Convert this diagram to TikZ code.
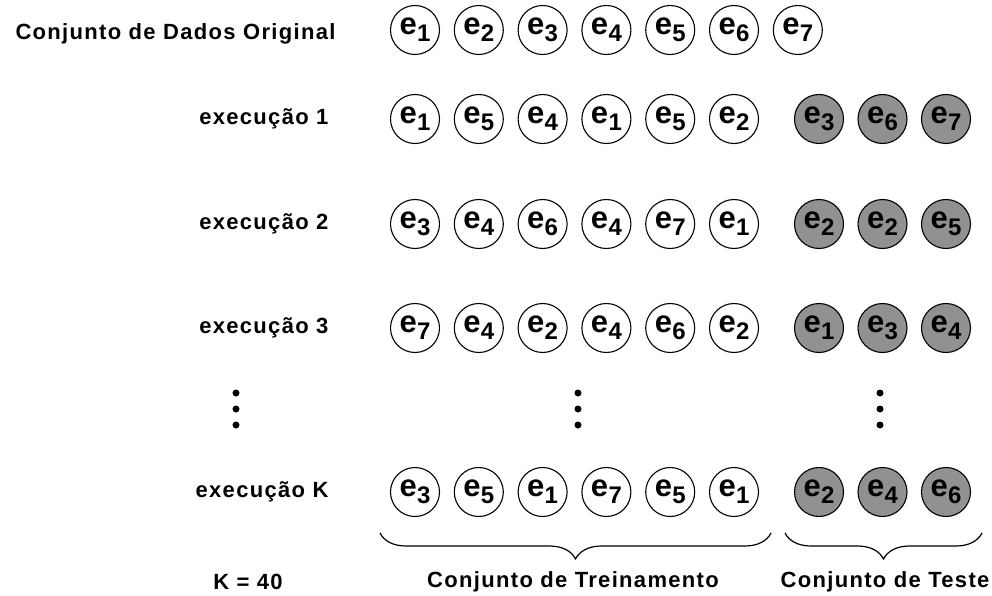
\documentclass[tikz,border=0pt]{standalone}
\usepackage{fontspec}
\setmainfont{Liberation Sans}
\usetikzlibrary{decorations.pathreplacing}

\newcommand{\amostra}[1]{e\kern0.3pt\raisebox{-7pt}{\fontsize{24}{24}\selectfont #1}}

\begin{document}
\begin{tikzpicture}[x=1pt,y=-1pt,
    elem/.style={circle, draw, line width=1.1pt, minimum size=49pt, inner sep=0pt,
      font=\fontsize{31}{31}\selectfont\bfseries},
    teste/.style={elem, fill=cinzateste},
    rotulo/.style={font=\fontsize{22}{22}\selectfont\bfseries\addfontfeature{LetterSpace=6}},
    chave/.style={decorate, decoration={brace, mirror, amplitude=26pt}, line width=1.2pt}]
    % Colors
    \definecolor{cinzateste}{RGB}{145, 145, 145}
    \useasboundingbox (0,0) rectangle (992,596);

    % Original data set
    \node[rotulo, anchor=west] (original) at (12,34) {Conjunto de Dados Original};
    \foreach \v [count=\i] in {1,...,7}
      \node[elem] (o\i) at ({415+63.8*(\i-1)},30) {\amostra{\v}};

    % Executions: training and test samples
    \foreach \n/\y/\treino/\tst in {1/119/{1,5,4,1,5,2}/{3,6,7},
        2/224/{3,4,6,4,7,1}/{2,2,5}, 3/328/{7,4,2,4,6,2}/{1,3,4},
        K/492/{3,5,1,7,5,1}/{2,4,6}} {
      \node[rotulo, anchor=east] (exec\n) at (332,\y) {execução \n};
      \foreach \v [count=\i] in \treino
        \node[elem] (r\n-\i) at ({415+63.8*(\i-1)},\y) {\amostra{\v}};
      \foreach \v [count=\i] in \tst
        \node[teste] (t\n-\i) at ({819+63.5*(\i-1)},\y) {\amostra{\v}};
    }

    % Vertical dots
    \foreach \x in {236,578,880}
      \foreach \y in {393,409,425}
        \fill (\x,\y) circle (3.5);

    % Braces
    \coordinate (treinoA) at (380,533);
    \coordinate (treinoB) at (771,533);
    \coordinate (testeA) at (785,533);
    \coordinate (testeB) at (982,533);
    \draw[chave] (treinoA) -- (treinoB);
    \draw[chave] (testeA) -- (testeB);

    % Bottom labels
    \node[rotulo] (k) at (248,582) {K = 40};
    \node[rotulo] (treino) at (573,582) {Conjunto de Treinamento};
    \node[rotulo] (teste) at (885,582) {Conjunto de Teste};
\end{tikzpicture}
\end{document}
